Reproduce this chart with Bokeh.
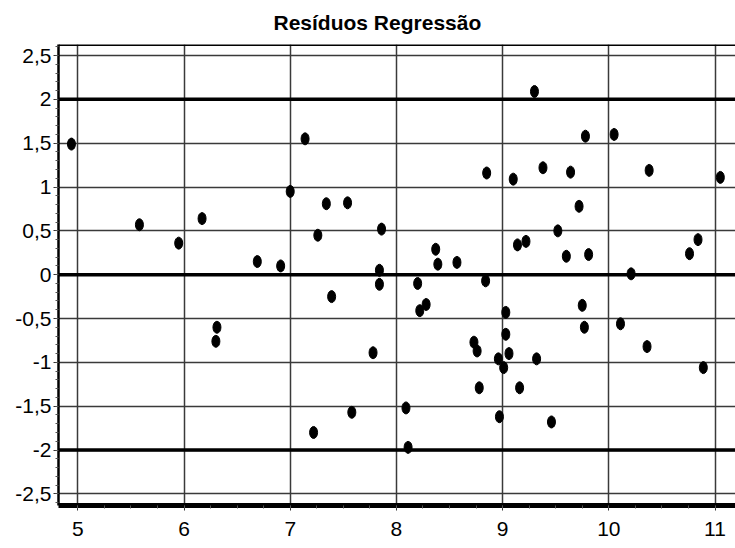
from bokeh.plotting import figure
from bokeh.models import FixedTicker, Span, Range1d
from bokeh.embed import file_html
from bokeh.resources import INLINE

# ---- data ----
x_vals = [4.94, 5.58, 5.95, 6.17, 6.31, 6.30, 6.69, 6.91, 7.00, 7.14,
          7.26, 7.34, 7.54, 7.39, 7.22, 7.58, 7.78, 7.86, 7.84, 7.84,
          8.20, 8.28, 8.22, 8.37, 8.39, 8.57, 8.85, 8.84, 8.73, 8.76,
          8.78, 8.09, 8.11, 8.97, 8.96, 9.01, 9.03, 9.03, 9.06, 9.16,
          9.10, 9.14, 9.22, 9.30, 9.32, 9.38, 9.46, 9.52, 9.60, 9.64,
          9.72, 9.75, 9.77, 9.78, 9.81, 10.05, 10.11, 10.21, 10.36, 10.38,
          10.76, 10.84, 10.89, 11.05]
residuals = [1.49, 0.57, 0.36, 0.64, -0.60, -0.76, 0.15, 0.10, 0.95, 1.55,
             0.45, 0.81, 0.82, -0.25, -1.80, -1.57, -0.89, 0.52, 0.05, -0.11,
             -0.10, -0.34, -0.41, 0.29, 0.12, 0.14, 1.16, -0.07, -0.77, -0.87,
             -1.29, -1.52, -1.97, -1.62, -0.96, -1.06, -0.43, -0.68, -0.90, -1.29,
             1.09, 0.34, 0.38, 2.09, -0.96, 1.22, -1.68, 0.50, 0.21, 1.17,
             0.78, -0.35, -0.60, 1.58, 0.23, 1.60, -0.56, 0.01, -0.82, 1.19,
             0.24, 0.40, -1.06, 1.11]

title_text = "Resíduos Regressão"
x_ticks = [5, 6, 7, 8, 9, 10, 11]
y_ticks = [-2.5, -2, -1.5, -1, -0.5, 0, 0.5, 1, 1.5, 2, 2.5]
y_tick_labels = {t: (str(t).replace(".", ",") if t != int(t) else str(int(t))) for t in y_ticks}
ref_lines = [-2, 0, 2]
x_minor = [5 + i * 0.25 for i in range(-1, 26)]
y_minor = [round(-2.6 + i * 0.1, 2) for i in range(53)]

x_start, x_end = 4.818, 11.193
y_start, y_end = -2.633, 2.626

FONT = "Liberation Sans"

p = figure(width=735, height=548, output_backend="svg", toolbar_location=None,
           x_range=Range1d(x_start, x_end), y_range=Range1d(y_start, y_end),
           title=title_text,
           min_border_left=58, min_border_right=0, min_border_top=44, min_border_bottom=43)
p.outline_line_color = None
p.background_fill_color = "white"
p.border_fill_color = "white"

p.title.text_font = FONT
p.title.text_font_size = "21px"
p.title.text_font_style = "bold"
p.title.text_color = "black"
p.title.align = "left"
p.title.offset = 215
p.title.vertical_align = "top"
p.title.standoff = 18

# grids
p.xgrid.ticker = FixedTicker(ticks=x_ticks)
p.ygrid.ticker = FixedTicker(ticks=y_ticks)
for g in (p.xgrid, p.ygrid):
    g.grid_line_color = "#3a3a3a"
    g.grid_line_width = 1.5
    g.grid_line_alpha = 1.0

for v in ref_lines:
    p.add_layout(Span(location=v, dimension="width", line_color="black", line_width=3.5))
p.add_layout(Span(location=y_end, dimension="width", line_color="black", line_width=3))

# axes
p.xaxis.ticker = FixedTicker(ticks=x_ticks, minor_ticks=x_minor)
p.yaxis.ticker = FixedTicker(ticks=y_ticks, minor_ticks=y_minor)
p.yaxis.major_label_overrides = y_tick_labels
for ax in (p.xaxis, p.yaxis):
    ax.major_label_text_font = FONT
    ax.major_label_text_font_size = "21px"
    ax.major_label_text_color = "black"
    ax.major_tick_in = 0
    ax.major_tick_out = 5
    ax.minor_tick_in = 0
    ax.minor_tick_out = 3
    ax.major_tick_line_color = "#333333"
    ax.minor_tick_line_color = "#555555"
    ax.axis_line_color = "black"
p.yaxis.axis_line_width = 2.5
p.xaxis.axis_line_width = 5
p.yaxis.major_label_standoff = 2
p.xaxis.major_label_standoff = 11

# points
p.ellipse(x=x_vals, y=residuals, width=8, height=12,
          width_units="screen", height_units="screen",
          fill_color="black", line_color="black")

open("out.html", "w").write(file_html(p, INLINE))
